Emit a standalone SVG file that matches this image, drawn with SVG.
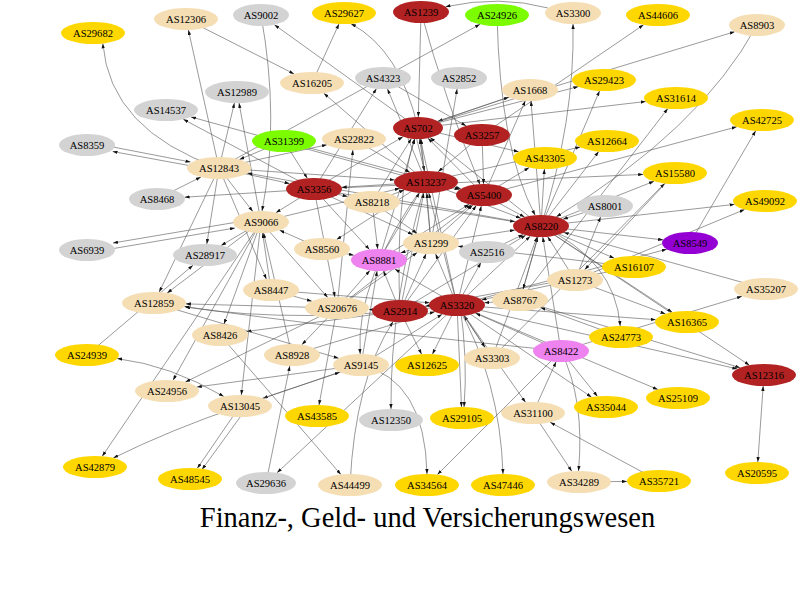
<svg xmlns="http://www.w3.org/2000/svg" width="800" height="589" viewBox="0 0 800 589">
<style>
.e path{fill:none;stroke:#555;stroke-width:0.6;marker-end:url(#ah)}
.e path.b{marker-start:url(#ahs)}
.n text{font-family:"Liberation Serif","Times New Roman",serif;font-size:10.6px;text-anchor:middle;fill:#000}
.r{fill:#b22222}.w{fill:#f5deb3}.y{fill:#ffd700}.g{fill:#d3d3d3}.lg{fill:#7cfc00}.v{fill:#ee82ee}.p{fill:#9400d3}
.t{font-family:"Liberation Serif","Times New Roman",serif;font-size:28.5px;text-anchor:middle;fill:#000}
</style>
<defs>
<marker id="ah" viewBox="0 0 6 4" refX="6" refY="2" markerWidth="5" markerHeight="3.4" markerUnits="userSpaceOnUse" orient="auto"><path d="M0,0L6,2L0,4z" fill="#111"/></marker>
<marker id="ahs" viewBox="0 0 6 4" refX="6" refY="2" markerWidth="5" markerHeight="3.4" markerUnits="userSpaceOnUse" orient="auto-start-reverse"><path d="M0,0L6,2L0,4z" fill="#111"/></marker>
</defs>
<rect width="800" height="589" fill="#fff"/>
<g id="edges" class="e">
<path d="M219,168 Q110,130 102.8,43.5"/>
<path d="M219,168 L188.4,30"/>
<path d="M186,19 L294.1,73.9"/>
<path d="M219,168 L234.4,103"/>
<path d="M261,222 L239,103"/>
<path d="M314,189 L183.3,119.3"/>
<path d="M426,182 L190.9,116.9"/>
<path d="M219,171 L112.6,151.5"/>
<path d="M87,142 L190.5,162"/>
<path d="M284,141 L239.4,159.5"/>
<path d="M261,15 Q280,120 262,211"/>
<path d="M418,128 L274.4,24.7"/>
<path d="M312,83 L339,23.9"/>
<path d="M418,128 Q400,50 351,23.7"/>
<path d="M421,12 L418.3,117"/>
<path d="M421,12 Q445,100 480,184.5"/>
<path d="M548,8 Q500,-5 445.5,6.7"/>
<path d="M219,168 L480,24.3"/>
<path d="M497,15 Q500,150 535.2,215.2"/>
<path d="M426,182 L323.8,93.2"/>
<path d="M314,189 L376.4,88.7"/>
<path d="M426,182 L387.5,88.9"/>
<path d="M383,78 L466.2,125.9"/>
<path d="M431,243 L457.1,89"/>
<path d="M530,90 L437.8,121.3"/>
<path d="M418,128 L578.4,86.6"/>
<path d="M541,226 Q575,150 599.5,90.9"/>
<path d="M418,128 L645.7,101.5"/>
<path d="M520,300 L667.8,108.6"/>
<path d="M482,135 L643.6,24.8"/>
<path d="M418,128 L734.8,31.7"/>
<path d="M757,25 Q700,130 556.3,216.8"/>
<path d="M690,243 L755.7,130.8"/>
<path d="M484,195 L736.8,126.8"/>
<path d="M426,182 L580.3,147"/>
<path d="M541,226 L598.7,151.6"/>
<path d="M541,226 L544.4,169"/>
<path d="M314,189 L643.2,174.4"/>
<path d="M492,358 L664.7,183.4"/>
<path d="M314,189 L184.6,197.2"/>
<path d="M157,199 L200.9,177.1"/>
<path d="M261,218 L113,243"/>
<path d="M87,253 L235,228"/>
<path d="M219,168 L206.8,244"/>
<path d="M261,222 L221.1,245.5"/>
<path d="M219,168 L159.2,292.1"/>
<path d="M261,222 L167.2,293"/>
<path d="M219,168 L266.4,279.2"/>
<path d="M271,290 L262.6,233"/>
<path d="M337,308 L185.9,303.9"/>
<path d="M457,305 Q300,325 185.5,307"/>
<path d="M561,351 Q350,330 184.4,306.6"/>
<path d="M87,355 L193,265.2"/>
<path d="M261,222 L224,324.1"/>
<path d="M400,311 L246.5,331.5"/>
<path class="b" d="M117.2,358.6 Q170,365 223.8,396.5"/>
<path d="M337,308 L185.4,382"/>
<path d="M261,222 L173,380.2"/>
<path d="M261,222 L241.3,395"/>
<path d="M361,365 L262.8,398.3"/>
<path d="M240,406 Q170,430 113.3,458"/>
<path d="M240,406 L197.3,468.3"/>
<path d="M246,409 L202,469.5"/>
<path d="M261,222 L102.2,456.3"/>
<path d="M219,168 L289.6,183.6"/>
<path d="M284,141 L307.3,178.3"/>
<path d="M219,168 L326.9,144.8"/>
<path d="M337,308 L352.9,150"/>
<path d="M457,305 L432.4,354.2"/>
<path d="M400,311 L421.6,354.2"/>
<path d="M457,305 L461.5,407"/>
<path d="M460,305 Q468,360 464,407"/>
<path d="M426,182 Q390,300 391,409"/>
<path d="M337,308 L319,405"/>
<path d="M361,365 Q425,380 427,474"/>
<path d="M561,351 L437.4,474.6"/>
<path d="M457,305 Q500,380 503,474"/>
<path d="M220,335 L340.9,474.5"/>
<path d="M350,485 Q355,380 393,321.7"/>
<path d="M457,305 L277,472.8"/>
<path d="M266,483 L289.8,366"/>
<path d="M240,406 L339.8,372.2"/>
<path d="M659,481 L550.2,422.3"/>
<path d="M533,413 L571.8,471.3"/>
<path d="M579,482 L627,481.4"/>
<path d="M561,351 Q585,400 578.5,471"/>
<path d="M561,351 L597.5,396.4"/>
<path d="M457,305 L591.6,397.2"/>
<path d="M457,305 L657.8,389.5"/>
<path d="M541,226 L749.4,365.2"/>
<path d="M520,300 L740.1,367.7"/>
<path d="M457,305 L737.3,368.9"/>
<path class="b" d="M763.2,386 L757.8,462"/>
<path d="M541,226 L672.2,312.3"/>
<path d="M457,305 L655.7,319.7"/>
<path d="M561,351 L742,296.3"/>
<path d="M766,289 L563.8,232.4"/>
<path d="M541,226 Q615,260 620.2,326"/>
<path d="M621,337 L540.5,307.5"/>
<path d="M541,226 L614.3,258.3"/>
<path d="M634,267 L425.2,306.3"/>
<path d="M541,226 L663.1,239.9"/>
<path d="M457,305 L666.8,249.2"/>
<path d="M541,226 L734.6,204.4"/>
<path d="M575,280 L744.6,209.5"/>
<path d="M605,206 L562.9,219.2"/>
<path d="M575,280 L600.6,216.9"/>
<path d="M675,173 L584.7,269.7"/>
<path d="M426,182 L419.6,139"/>
<path d="M414,128 L424.5,171"/>
<path d="M314,189 L403,136.8"/>
<path d="M484,195 L427.9,138.1"/>
<path d="M541,226 L430.1,137.6"/>
<path d="M400,311 Q395,200 414.5,138.9"/>
<path d="M457,305 L420.4,138.9"/>
<path d="M431,243 L421,139"/>
<path d="M379,260 L414.8,138.9"/>
<path d="M418,128 L518.7,151.8"/>
<path d="M372,202 L411.4,138.6"/>
<path d="M426,182 L341.7,187.3"/>
<path d="M426,182 L459.6,189.5"/>
<path d="M426,182 L520.9,218.3"/>
<path d="M431,243 L426.8,193"/>
<path d="M379,260 L419.5,192.8"/>
<path d="M457,305 L428.8,193"/>
<path d="M400,311 L423.8,193"/>
<path d="M372,202 L404.2,190.1"/>
<path d="M482,135 L438.1,171.8"/>
<path d="M354,139 L410,172.5"/>
<path d="M284,141 L460.9,188.8"/>
<path d="M219,168 L394.6,179.9"/>
<path d="M261,222 L399.9,188.3"/>
<path d="M314,189 L515.1,221.8"/>
<path d="M484,195 L524.6,217.1"/>
<path d="M482,135 L483.6,184"/>
<path d="M431,243 L472.8,205.1"/>
<path d="M457,305 L481.3,205.9"/>
<path d="M400,311 L476.3,205.6"/>
<path d="M379,260 L469,204.3"/>
<path d="M337,308 L471.3,204.8"/>
<path d="M431,243 L514.9,230"/>
<path d="M457,305 L530.2,236.2"/>
<path d="M400,311 L525.7,235.2"/>
<path d="M520,300 L537.9,236.9"/>
<path d="M575,280 L547.7,236.7"/>
<path d="M561,351 L542.8,237"/>
<path d="M492,358 L537,236.9"/>
<path d="M487,252 L523.3,234.5"/>
<path d="M541,226 L531,101"/>
<path d="M541,226 L247.3,173.1"/>
<path d="M372,202 L417.2,233.4"/>
<path d="M457,305 L435.6,253.9"/>
<path d="M400,311 L426.1,253.8"/>
<path d="M314,189 L412.9,234.6"/>
<path d="M337,308 L417.2,252.6"/>
<path d="M431,243 L400.5,253"/>
<path d="M322,249 L353.9,255.2"/>
<path d="M314,189 L369.5,249.6"/>
<path d="M400,311 L383.5,270.9"/>
<path d="M337,308 L369.9,270.4"/>
<path d="M457,305 L394.8,269.1"/>
<path d="M361,365 L377.1,271"/>
<path d="M372,202 L377.7,249"/>
<path d="M400,311 L369,309.5"/>
<path d="M520,300 L484.4,302.8"/>
<path d="M492,358 L464,315.6"/>
<path d="M575,280 L481.6,299.8"/>
<path d="M561,351 L475.6,313.2"/>
<path d="M361,365 L442.1,314.3"/>
<path d="M292,355 L434.8,311.7"/>
<path d="M361,365 L196.8,387"/>
<path d="M426,182 Q355,280 360.2,354"/>
<path d="M271,290 L311.9,301.2"/>
<path d="M271,290 L429.6,302.8"/>
<path d="M261,222 L327.7,297.5"/>
<path d="M314,189 L334.9,297"/>
<path d="M337,308 L301.9,344.7"/>
<path d="M292,355 L263.6,233"/>
<path d="M154,303 L338.7,358.3"/>
<path d="M634,267 L457.8,246.2"/>
<path d="M457,305 L525.5,402.3"/>
<path d="M533,413 L556.1,361.8"/>
<path d="M457,305 L485,347.4"/>
<path d="M541,226 L523.1,289.1"/>
<path d="M575,280 L665.4,313.9"/>
<path d="M418,128 L508.8,97.2"/>
<path d="M541,226 Q575,120 573,24"/>
<path d="M219,168 L252.8,211.5"/>
<path d="M314,189 L275.9,212.7"/>
<path d="M314,189 L347.6,196.5"/>
<path d="M322,249 L279.6,230.2"/>
<path d="M426,182 L336.6,239.6"/>
<path d="M484,195 L529.2,167.6"/>
<path d="M541,226 L654,181.3"/>
<path d="M457,305 L480.9,262.7"/>
<path d="M484,195 L525.3,100.8"/>
</g>
<g class="n">
<g id="AS29682"><ellipse class="y" cx="93" cy="33" rx="32" ry="11"/><text x="93" y="37">AS29682</text></g>
<g id="AS12306"><ellipse class="w" cx="186" cy="19" rx="32" ry="11"/><text x="186" y="23">AS12306</text></g>
<g id="AS9002"><ellipse class="g" cx="261" cy="15" rx="28" ry="11"/><text x="261" y="19">AS9002</text></g>
<g id="AS29627"><ellipse class="y" cx="344" cy="13" rx="32" ry="11"/><text x="344" y="17">AS29627</text></g>
<g id="AS1239"><ellipse class="r" cx="421" cy="12" rx="28" ry="11"/><text x="421" y="16">AS1239</text></g>
<g id="AS24926"><ellipse class="lg" cx="497" cy="15" rx="32" ry="11"/><text x="497" y="19">AS24926</text></g>
<g id="AS3300"><ellipse class="w" cx="573" cy="13" rx="28" ry="11"/><text x="573" y="17">AS3300</text></g>
<g id="AS44606"><ellipse class="y" cx="658" cy="15" rx="32" ry="11"/><text x="658" y="19">AS44606</text></g>
<g id="AS8903"><ellipse class="w" cx="757" cy="25" rx="28" ry="11"/><text x="757" y="29">AS8903</text></g>
<g id="AS16205"><ellipse class="w" cx="312" cy="83" rx="32" ry="11"/><text x="312" y="87">AS16205</text></g>
<g id="AS4323"><ellipse class="g" cx="383" cy="78" rx="28" ry="11"/><text x="383" y="82">AS4323</text></g>
<g id="AS2852"><ellipse class="g" cx="459" cy="78" rx="28" ry="11"/><text x="459" y="82">AS2852</text></g>
<g id="AS1668"><ellipse class="w" cx="530" cy="90" rx="28" ry="11"/><text x="530" y="94">AS1668</text></g>
<g id="AS29423"><ellipse class="y" cx="604" cy="80" rx="32" ry="11"/><text x="604" y="84">AS29423</text></g>
<g id="AS31614"><ellipse class="y" cx="676" cy="98" rx="32" ry="11"/><text x="676" y="102">AS31614</text></g>
<g id="AS14537"><ellipse class="g" cx="166" cy="110" rx="32" ry="11"/><text x="166" y="114">AS14537</text></g>
<g id="AS12989"><ellipse class="g" cx="237" cy="92" rx="32" ry="11"/><text x="237" y="96">AS12989</text></g>
<g id="AS702"><ellipse class="r" cx="418" cy="128" rx="25" ry="11"/><text x="418" y="132">AS702</text></g>
<g id="AS3257"><ellipse class="r" cx="482" cy="135" rx="28" ry="11"/><text x="482" y="139">AS3257</text></g>
<g id="AS31399"><ellipse class="lg" cx="284" cy="141" rx="32" ry="11"/><text x="284" y="145">AS31399</text></g>
<g id="AS22822"><ellipse class="w" cx="354" cy="139" rx="32" ry="11"/><text x="354" y="143">AS22822</text></g>
<g id="AS42725"><ellipse class="y" cx="762" cy="120" rx="32" ry="11"/><text x="762" y="124">AS42725</text></g>
<g id="AS8359"><ellipse class="g" cx="87" cy="145" rx="28" ry="11"/><text x="87" y="149">AS8359</text></g>
<g id="AS12664"><ellipse class="y" cx="607" cy="141" rx="32" ry="11"/><text x="607" y="145">AS12664</text></g>
<g id="AS43305"><ellipse class="y" cx="545" cy="158" rx="32" ry="11"/><text x="545" y="162">AS43305</text></g>
<g id="AS12843"><ellipse class="w" cx="219" cy="168" rx="32" ry="11"/><text x="219" y="172">AS12843</text></g>
<g id="AS3356"><ellipse class="r" cx="314" cy="189" rx="28" ry="11"/><text x="314" y="193">AS3356</text></g>
<g id="AS13237"><ellipse class="r" cx="426" cy="182" rx="32" ry="11"/><text x="426" y="186">AS13237</text></g>
<g id="AS5400"><ellipse class="r" cx="484" cy="195" rx="28" ry="11"/><text x="484" y="199">AS5400</text></g>
<g id="AS8218"><ellipse class="w" cx="372" cy="202" rx="28" ry="11"/><text x="372" y="206">AS8218</text></g>
<g id="AS15580"><ellipse class="y" cx="675" cy="173" rx="32" ry="11"/><text x="675" y="177">AS15580</text></g>
<g id="AS8468"><ellipse class="g" cx="157" cy="199" rx="28" ry="11"/><text x="157" y="203">AS8468</text></g>
<g id="AS8001"><ellipse class="g" cx="605" cy="206" rx="28" ry="11"/><text x="605" y="210">AS8001</text></g>
<g id="AS9066"><ellipse class="w" cx="261" cy="222" rx="28" ry="11"/><text x="261" y="226">AS9066</text></g>
<g id="AS8220"><ellipse class="r" cx="541" cy="226" rx="28" ry="11"/><text x="541" y="230">AS8220</text></g>
<g id="AS49092"><ellipse class="y" cx="765" cy="201" rx="32" ry="11"/><text x="765" y="205">AS49092</text></g>
<g id="AS6939"><ellipse class="g" cx="87" cy="250" rx="28" ry="11"/><text x="87" y="254">AS6939</text></g>
<g id="AS28917"><ellipse class="g" cx="205" cy="255" rx="32" ry="11"/><text x="205" y="259">AS28917</text></g>
<g id="AS8560"><ellipse class="w" cx="322" cy="249" rx="28" ry="11"/><text x="322" y="253">AS8560</text></g>
<g id="AS1299"><ellipse class="w" cx="431" cy="243" rx="28" ry="11"/><text x="431" y="247">AS1299</text></g>
<g id="AS2516"><ellipse class="g" cx="487" cy="252" rx="28" ry="11"/><text x="487" y="256">AS2516</text></g>
<g id="AS8881"><ellipse class="v" cx="379" cy="260" rx="28" ry="11"/><text x="379" y="264">AS8881</text></g>
<g id="AS8549"><ellipse class="p" cx="690" cy="243" rx="28" ry="11"/><text x="690" y="247">AS8549</text></g>
<g id="AS16107"><ellipse class="y" cx="634" cy="267" rx="32" ry="11"/><text x="634" y="271">AS16107</text></g>
<g id="AS1273"><ellipse class="w" cx="575" cy="280" rx="28" ry="11"/><text x="575" y="284">AS1273</text></g>
<g id="AS35207"><ellipse class="w" cx="766" cy="289" rx="32" ry="11"/><text x="766" y="293">AS35207</text></g>
<g id="AS8447"><ellipse class="w" cx="271" cy="290" rx="28" ry="11"/><text x="271" y="294">AS8447</text></g>
<g id="AS12859"><ellipse class="w" cx="154" cy="303" rx="32" ry="11"/><text x="154" y="307">AS12859</text></g>
<g id="AS20676"><ellipse class="w" cx="337" cy="308" rx="32" ry="11"/><text x="337" y="312">AS20676</text></g>
<g id="AS2914"><ellipse class="r" cx="400" cy="311" rx="28" ry="11"/><text x="400" y="315">AS2914</text></g>
<g id="AS3320"><ellipse class="r" cx="457" cy="305" rx="28" ry="11"/><text x="457" y="309">AS3320</text></g>
<g id="AS8767"><ellipse class="w" cx="520" cy="300" rx="28" ry="11"/><text x="520" y="304">AS8767</text></g>
<g id="AS16365"><ellipse class="y" cx="687" cy="322" rx="32" ry="11"/><text x="687" y="326">AS16365</text></g>
<g id="AS8426"><ellipse class="w" cx="220" cy="335" rx="28" ry="11"/><text x="220" y="339">AS8426</text></g>
<g id="AS24773"><ellipse class="y" cx="621" cy="337" rx="32" ry="11"/><text x="621" y="341">AS24773</text></g>
<g id="AS8422"><ellipse class="v" cx="561" cy="351" rx="28" ry="11"/><text x="561" y="355">AS8422</text></g>
<g id="AS24939"><ellipse class="y" cx="87" cy="355" rx="32" ry="11"/><text x="87" y="359">AS24939</text></g>
<g id="AS8928"><ellipse class="w" cx="292" cy="355" rx="28" ry="11"/><text x="292" y="359">AS8928</text></g>
<g id="AS9145"><ellipse class="w" cx="361" cy="365" rx="28" ry="11"/><text x="361" y="369">AS9145</text></g>
<g id="AS12625"><ellipse class="y" cx="427" cy="365" rx="32" ry="11"/><text x="427" y="369">AS12625</text></g>
<g id="AS3303"><ellipse class="w" cx="492" cy="358" rx="28" ry="11"/><text x="492" y="362">AS3303</text></g>
<g id="AS12316"><ellipse class="r" cx="764" cy="375" rx="32" ry="11"/><text x="764" y="379">AS12316</text></g>
<g id="AS24956"><ellipse class="w" cx="167" cy="391" rx="32" ry="11"/><text x="167" y="395">AS24956</text></g>
<g id="AS13045"><ellipse class="w" cx="240" cy="406" rx="32" ry="11"/><text x="240" y="410">AS13045</text></g>
<g id="AS43585"><ellipse class="y" cx="317" cy="416" rx="32" ry="11"/><text x="317" y="420">AS43585</text></g>
<g id="AS12350"><ellipse class="g" cx="391" cy="420" rx="32" ry="11"/><text x="391" y="424">AS12350</text></g>
<g id="AS29105"><ellipse class="y" cx="462" cy="418" rx="32" ry="11"/><text x="462" y="422">AS29105</text></g>
<g id="AS31100"><ellipse class="w" cx="533" cy="413" rx="32" ry="11"/><text x="533" y="417">AS31100</text></g>
<g id="AS35044"><ellipse class="y" cx="606" cy="407" rx="32" ry="11"/><text x="606" y="411">AS35044</text></g>
<g id="AS25109"><ellipse class="y" cx="678" cy="398" rx="32" ry="11"/><text x="678" y="402">AS25109</text></g>
<g id="AS42879"><ellipse class="y" cx="95" cy="467" rx="32" ry="11"/><text x="95" y="471">AS42879</text></g>
<g id="AS48545"><ellipse class="y" cx="190" cy="479" rx="32" ry="11"/><text x="190" y="483">AS48545</text></g>
<g id="AS29636"><ellipse class="g" cx="266" cy="483" rx="30" ry="11"/><text x="266" y="487">AS29636</text></g>
<g id="AS44499"><ellipse class="w" cx="350" cy="485" rx="32" ry="11"/><text x="350" y="489">AS44499</text></g>
<g id="AS34564"><ellipse class="y" cx="427" cy="485" rx="32" ry="11"/><text x="427" y="489">AS34564</text></g>
<g id="AS47446"><ellipse class="y" cx="503" cy="485" rx="32" ry="11"/><text x="503" y="489">AS47446</text></g>
<g id="AS34289"><ellipse class="w" cx="579" cy="482" rx="32" ry="11"/><text x="579" y="486">AS34289</text></g>
<g id="AS35721"><ellipse class="y" cx="659" cy="481" rx="32" ry="11"/><text x="659" y="485">AS35721</text></g>
<g id="AS20595"><ellipse class="y" cx="757" cy="473" rx="32" ry="11"/><text x="757" y="477">AS20595</text></g>
</g>
<text class="t" x="427.5" y="527">Finanz-, Geld- und Versicherungswesen</text>
</svg>
